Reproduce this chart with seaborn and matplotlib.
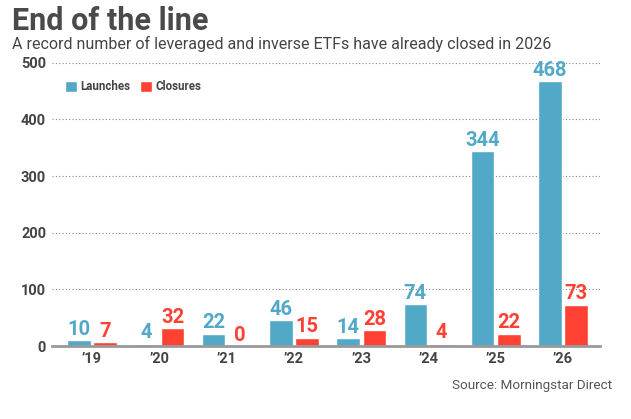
import matplotlib
matplotlib.use('Agg')
import matplotlib.pyplot as plt
import pandas as pd
import seaborn as sns

years = ['\u201919', '\u201920', '\u201921', '\u201922', '\u201923', '\u201924', '\u201925', '\u201926']
launches = [10, 4, 22, 46, 14, 74, 344, 468]
closures = [7, 32, 0, 15, 28, 4, 22, 73]
series = ['Launches', 'Closures']
colors = {'Launches': '#52a9c7', 'Closures': '#ff4133'}

df = pd.DataFrame({
    'year': years * 2,
    'count': launches + closures,
    'type': ['Launches'] * len(years) + ['Closures'] * len(years),
})

sns.set_style('white')
plt.rcParams['font.family'] = ['Roboto', 'DejaVu Sans']

fig = plt.figure(figsize=(6.31, 4.19), dpi=100)
ax = fig.add_axes([0.082, 0.174, 0.869, 0.676])

sns.barplot(data=df, x='year', y='count', hue='type', hue_order=series,
            palette=colors, width=0.78, gap=0.1, saturation=1, ax=ax)

for cont, name in zip(ax.containers, series):
    ax.bar_label(cont, padding=1, color=colors[name], fontsize=14.5,
                 fontweight='bold')

ax.set_ylim(0, 500)
ax.set_xlim(-0.6, 7.55)
ax.set_yticks([0, 100, 200, 300, 400, 500])
ax.yaxis.grid(True, linestyle=(0, (1, 2)), color='#888888', linewidth=0.8)
ax.set_axisbelow(True)
for s in ['top', 'right', 'left']:
    ax.spines[s].set_visible(False)
ax.spines['bottom'].set_color('#999999')
ax.spines['bottom'].set_linewidth(2)
ax.tick_params(length=0, labelsize=10.5, labelcolor='#444444', pad=4)
for lab in ax.get_xticklabels() + ax.get_yticklabels():
    lab.set_fontweight('bold')
ax.set_xlabel('')
ax.set_ylabel('')

leg = ax.legend(loc='upper left', bbox_to_anchor=(0.005, 0.975), ncol=2,
                frameon=False, handlelength=1.05, handleheight=1.05,
                handletextpad=0.3, columnspacing=0.8, fontsize=8.3)
for t in leg.get_texts():
    t.set_color('#444444')
    t.set_fontweight('bold')

fig.text(0.019, 0.985, 'End of the line', fontsize=22, fontweight='bold',
         color='#4a4a4a', va='top')
fig.text(0.019, 0.915, 'A record number of leveraged and inverse ETFs have already closed in 2026',
         fontsize=11.5, color='#444444', va='top')
fig.text(0.97, 0.095, 'Source: Morningstar Direct', fontsize=9.7,
         color='#555555', ha='right', va='top')

fig.savefig('out.png', dpi=100)
